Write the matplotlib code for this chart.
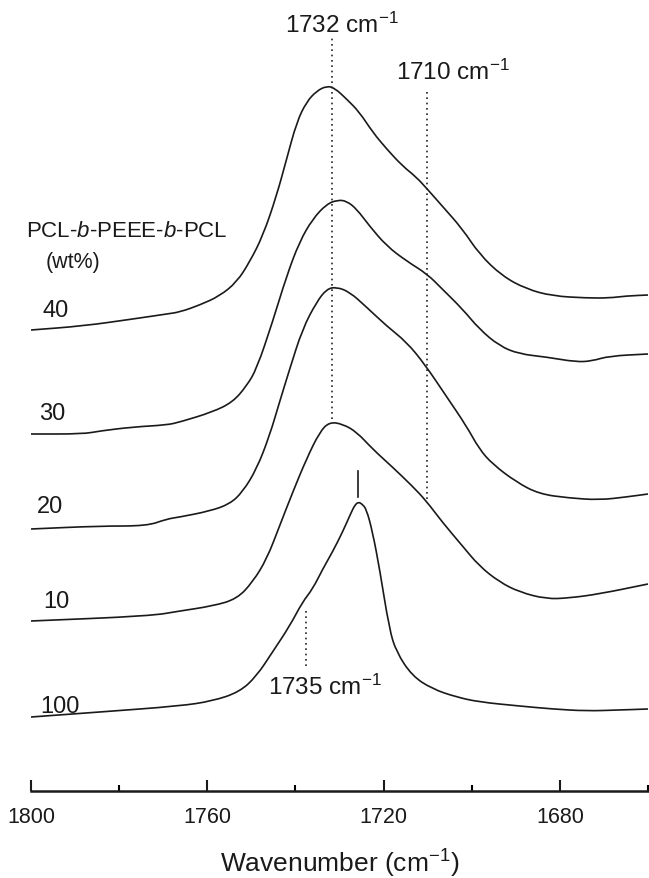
import matplotlib
matplotlib.use("Agg")
import matplotlib.pyplot as plt
from matplotlib.path import Path
from matplotlib.patches import PathPatch
from matplotlib.ticker import MultipleLocator

plt.rcParams['font.family'] = ['Liberation Sans', 'DejaVu Sans']
plt.rcParams['mathtext.fontset'] = 'custom'
plt.rcParams['mathtext.rm'] = 'Liberation Sans'
plt.rcParams['mathtext.it'] = 'Liberation Sans:italic'
plt.rcParams['mathtext.default'] = 'regular'

# --- spectra (stacked, arbitrary units) ---
wn_40 = [1800, 1788.2, 1776.9, 1769.2, 1766.2, 1761.7, 1757.2, 1753.3, 1750.4, 1747.4, 1744.3,
         1742.0, 1739.7, 1737.5, 1735.2, 1732.9, 1731.1, 1728.4, 1725.5, 1722.5, 1719.3, 1715.7,
         1712.6, 1710.1, 1706.7, 1702.1, 1698.3, 1693.1, 1687.6, 1681.7, 1674.0, 1668.8, 1665.0,
         1660.0]
a_40 = [4.61, 4.65, 4.72, 4.77, 4.79, 4.86, 4.95, 5.09, 5.29, 5.55, 5.95,
        6.32, 6.69, 6.89, 7.00, 7.05, 7.03, 6.92, 6.79, 6.59, 6.42, 6.25,
        6.14, 6.02, 5.85, 5.62, 5.37, 5.15, 5.02, 4.95, 4.93, 4.93, 4.95,
        4.96]

wn_30 = [1800, 1788.2, 1784.4, 1776.9, 1769.2, 1766.2, 1758.8, 1754.2, 1751.1, 1748.8, 1745.2,
         1742.0, 1739.1, 1736.1, 1732.9, 1730.4, 1728.4, 1726.1, 1723.2, 1719.3, 1714.8, 1710.1,
         1706.7, 1702.1, 1698.3, 1693.7, 1689.2, 1683.1, 1676.3, 1672.7, 1668.8, 1660.0]
a_30 = [3.57, 3.57, 3.60, 3.64, 3.66, 3.69, 3.79, 3.89, 4.05, 4.22, 4.69,
        5.15, 5.49, 5.72, 5.87, 5.91, 5.90, 5.82, 5.65, 5.45, 5.30, 5.17,
        5.02, 4.82, 4.62, 4.45, 4.37, 4.34, 4.29, 4.30, 4.35, 4.37]

wn_20 = [1800, 1784.4, 1773.7, 1769.2, 1766.2, 1759.4, 1754.9, 1752.0, 1748.8, 1745.9, 1743.6,
         1741.3, 1738.4, 1735.2, 1732.9, 1730.7, 1727.7, 1723.9, 1719.3, 1714.8, 1710.7, 1705.8,
         1701.2, 1698.3, 1695.3, 1689.9, 1684.7, 1677.9, 1671.1, 1665.0, 1660.0]
a_20 = [2.62, 2.65, 2.65, 2.72, 2.74, 2.80, 2.87, 2.99, 3.22, 3.55, 3.89,
        4.22, 4.62, 4.89, 5.02, 5.04, 4.99, 4.84, 4.65, 4.49, 4.27, 3.95,
        3.65, 3.42, 3.27, 3.09, 2.97, 2.93, 2.91, 2.94, 2.97]

wn_10 = [1800, 1773.0, 1766.2, 1758.8, 1753.3, 1749.7, 1746.5, 1743.6, 1740.6, 1737.5, 1734.5,
         1732.3, 1729.3, 1726.1, 1722.5, 1718.0, 1713.5, 1710.3, 1706.7, 1702.1, 1698.3, 1693.7,
         1689.2, 1683.1, 1677.9, 1671.1, 1660.0]
a_10 = [1.70, 1.75, 1.80, 1.85, 1.92, 2.09, 2.32, 2.65, 2.99, 3.32, 3.59,
        3.69, 3.67, 3.59, 3.42, 3.24, 3.05, 2.90, 2.69, 2.45, 2.25, 2.09,
        1.99, 1.92, 1.93, 1.97, 2.07]

wn_100 = [1800, 1784.4, 1766.2, 1758.8, 1752.7, 1748.8, 1745.2, 1741.3, 1738.4, 1736.1, 1733.8,
          1731.6, 1729.3, 1727.3, 1726.5, 1725.7, 1724.9, 1723.9, 1722.5, 1720.9, 1718.7, 1717.1,
          1713.5, 1708.9, 1703.5, 1698.3, 1689.2, 1681.7, 1674.0, 1666.6, 1660.0]
a_100 = [0.74, 0.79, 0.85, 0.90, 0.99, 1.15, 1.39, 1.65, 1.89, 2.02, 2.22,
         2.39, 2.59, 2.79, 2.86, 2.89, 2.87, 2.82, 2.59, 2.22, 1.62, 1.39,
         1.15, 1.02, 0.94, 0.89, 0.85, 0.82, 0.80, 0.81, 0.82]

spectra = [(wn_40, a_40), (wn_30, a_30), (wn_20, a_20), (wn_10, a_10), (wn_100, a_100)]

# curve labels: text, x, y
labels = ['40', '30', '20', '10', '100']
label_x = [1797.5, 1798.2, 1798.6, 1797.3, 1798.0]
label_y = [4.75, 3.72, 2.79, 1.84, 0.79]

# peak markers (x, y0, y1)
peak_1732 = (1731.8, 3.72, 7.55)
peak_1710 = (1710.1, 2.92, 7.02)
peak_1735 = (1737.7, 1.25, 1.82)
peak_100 = (1725.7, 2.94, 3.20)


def smooth_path(xs, ys):
    # quadratic bezier through midpoints, read points act as control points
    pts = list(zip(xs, ys))
    verts = [pts[0]]
    codes = [Path.MOVETO]
    mids = [((pts[i][0] + pts[i + 1][0]) / 2, (pts[i][1] + pts[i + 1][1]) / 2)
            for i in range(len(pts) - 1)]
    verts.append(mids[0])
    codes.append(Path.LINETO)
    for i in range(1, len(pts) - 1):
        verts += [pts[i], mids[i]]
        codes += [Path.CURVE3, Path.CURVE3]
    verts.append(pts[-1])
    codes.append(Path.LINETO)
    return Path(verts, codes)


fig = plt.figure(figsize=(6.49, 8.79), dpi=100)
ax = fig.add_axes([31 / 649, 87 / 879, 1 - 32 / 649, 792 / 879])

for wn, a in spectra:
    ax.add_patch(PathPatch(smooth_path(wn, a), facecolor='none', edgecolor='#1a1a1a',
                           lw=1.2, joinstyle='round', capstyle='butt'))

dots = (0, (1.0, 2.2))
ax.plot([peak_1732[0]] * 2, peak_1732[1:], color='#222222', lw=1.2, ls=dots)
ax.plot([peak_1710[0]] * 2, peak_1710[1:], color='#222222', lw=1.2, ls=dots)
ax.plot([peak_1735[0]] * 2, peak_1735[1:], color='#222222', lw=1.2, ls=dots)
ax.plot([peak_100[0]] * 2, peak_100[1:], color='#1a1a1a', lw=1.2)

ax.text(1742.4, 7.59, '1732 cm$^{-1}$', fontsize=17.5, color='#1a1a1a')
ax.text(1717.1, 7.12, '1710 cm$^{-1}$', fontsize=17.5, color='#1a1a1a')
ax.text(1746.3, 0.97, '1735 cm$^{-1}$', fontsize=17.5, color='#1a1a1a')

for t, x, y in zip(labels, label_x, label_y):
    ax.text(x, y, t, fontsize=17, color='#1a1a1a')
ax.text(1801.2, 5.55, 'PCL-$\\it{b}$-PEEE-$\\it{b}$-PCL', fontsize=16, color='#1a1a1a')
ax.text(1796.7, 5.24, '(wt%)', fontsize=15.5, color='#1a1a1a')

ax.set_xlim(1800, 1660)
ax.set_ylim(0, 7.92)
for s in ['top', 'left', 'right']:
    ax.spines[s].set_visible(False)
ax.spines['bottom'].set_linewidth(1.8)
ax.spines['bottom'].set_color('#1a1a1a')
ax.set_yticks([])
ax.xaxis.set_major_locator(MultipleLocator(40))
ax.xaxis.set_minor_locator(MultipleLocator(20))
ax.tick_params(axis='x', which='major', direction='in', length=8, width=1.5,
               labelsize=15.5, pad=11, colors='#1a1a1a')
ax.tick_params(axis='x', which='minor', direction='in', length=4.5, width=1.5)
ax.set_xlabel('Wavenumber (cm$^{-1}$)', fontsize=19, labelpad=14, color='#1a1a1a')

fig.savefig('out.png', dpi=100)
